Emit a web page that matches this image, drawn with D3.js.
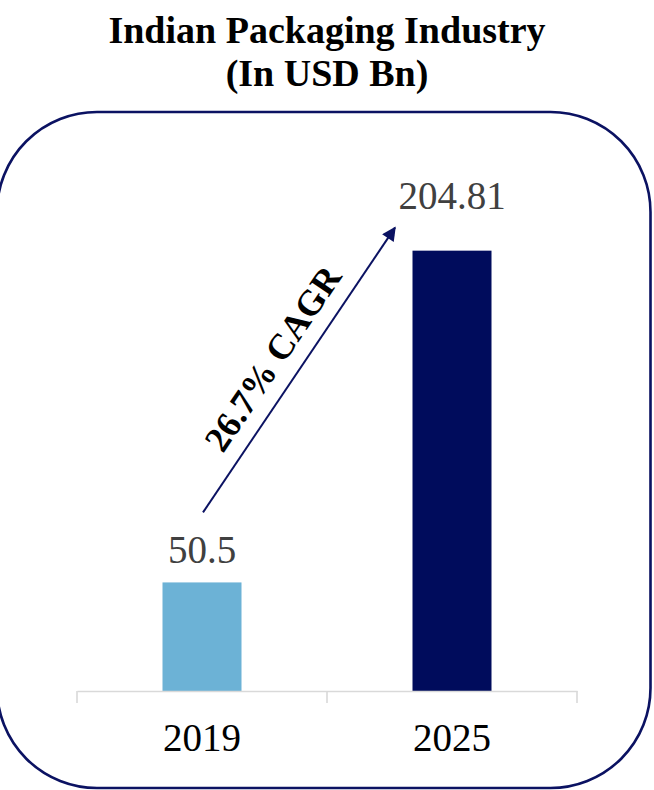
<!DOCTYPE html>
<html>
<head>
<meta charset="utf-8">
<style>
  body { margin: 0; background: #fff; }
  svg { display: block; }
</style>
</head>
<body>
<svg width="654" height="790"></svg>
<script src="https://d3js.org/d3.v7.min.js"></script>
<script>

var years = ["2019", "2025"];
var values = [50.5, 204.81];
var barColors = ["#6cb2d6", "#000c5c"];
var titleLines = ["Indian Packaging Industry", "(In USD Bn)"];
var cagrLabel = "26.7% CAGR";

var svg = d3.select("svg"),
    serif = "'Liberation Serif', 'Times New Roman', serif",
    navy = "#0b1262";

// rounded frame (left edge runs just off the page)
svg.append("rect")
  .attr("x", -3)
  .attr("y", 112)
  .attr("width", 653.5)
  .attr("height", 676)
  .attr("rx", 100)
  .attr("ry", 100)
  .attr("fill", "none")
  .attr("stroke", navy)
  .attr("stroke-width", 2.6);

// title
svg.selectAll(".title")
  .data(titleLines)
  .enter().append("text")
  .attr("class", "title")
  .attr("x", 327)
  .attr("y", function(d, i) { return 43 + i * 43; })
  .attr("text-anchor", "middle")
  .style("font-family", serif)
  .style("font-weight", "bold")
  .style("font-size", "38px")
  .attr("fill", "#000")
  .text(function(d) { return d; });

var x = d3.scaleBand()
  .domain(years)
  .range([77, 577])
  .padding(0);

var y = d3.scaleLinear()
  .domain([0, 250])
  .range([691, 153.5]);

var barW = x.bandwidth() * 0.316;

// bars
svg.selectAll(".bar")
  .data(values)
  .enter().append("rect")
  .attr("class", "bar")
  .attr("x", function(d, i) { return x(years[i]) + x.bandwidth() / 2 - barW / 2; })
  .attr("y", function(d) { return y(d); })
  .attr("width", barW)
  .attr("height", function(d) { return y(0) - y(d); })
  .attr("fill", function(d, i) { return barColors[i]; });

// value labels (last one sits higher to leave room for the arrow head)
svg.selectAll(".val")
  .data(values)
  .enter().append("text")
  .attr("class", "val")
  .attr("x", function(d, i) { return x(years[i]) + x.bandwidth() / 2; })
  .attr("y", function(d, i) { return y(d) - (i === values.length - 1 ? 42 : 19); })
  .attr("text-anchor", "middle")
  .style("font-family", serif)
  .style("font-size", "39px")
  .attr("fill", "#404040")
  .text(function(d) { return d; });

// x axis
var axis = svg.append("g")
  .attr("transform", "translate(0," + y(0) + ")")
  .call(d3.axisBottom(x).tickSize(0).tickSizeOuter(0).tickPadding(0));

axis.select(".domain")
  .attr("stroke", "#d9d9d9")
  .attr("stroke-width", 1.6);

axis.selectAll(".tick text")
  .attr("y", 60)
  .attr("dy", 0)
  .style("font-family", serif)
  .style("font-size", "39px")
  .attr("fill", "#000");

// category separators like the spreadsheet axis
var edges = years.map(function(d) { return x(d); }).concat([x.range()[1]]);
axis.selectAll(".sep")
  .data(edges)
  .enter().append("line")
  .attr("class", "sep")
  .attr("x1", function(d) { return d; })
  .attr("x2", function(d) { return d; })
  .attr("y1", 0)
  .attr("y2", 12)
  .attr("stroke", "#d9d9d9")
  .attr("stroke-width", 1.6);

// CAGR arrow
svg.append("defs").append("marker")
  .attr("id", "head")
  .attr("viewBox", "0 0 10 10")
  .attr("refX", 9)
  .attr("refY", 5)
  .attr("markerWidth", 7.5)
  .attr("markerHeight", 7)
  .attr("markerUnits", "strokeWidth")
  .attr("orient", "auto")
  .append("path")
  .attr("d", "M0,0L10,5L0,10Z")
  .attr("fill", navy);

var x0 = x(years[0]) + x.bandwidth() / 2 + 1,
    y0 = y(values[0]) - 70,
    x1 = x(years[1]) + x.bandwidth() / 2 - 57,
    y1 = y(values[1]) - 23;

svg.append("line")
  .attr("x1", x0).attr("y1", y0)
  .attr("x2", x1).attr("y2", y1)
  .attr("stroke", navy)
  .attr("stroke-width", 2)
  .attr("marker-end", "url(#head)");

var ang = Math.atan2(y1 - y0, x1 - x0),
    mx = (x0 + x1) / 2 + Math.cos(ang) * -5 + Math.sin(ang) * 28,
    my = (y0 + y1) / 2 + Math.sin(ang) * -5 - Math.cos(ang) * 28;

svg.append("text")
  .attr("transform", "translate(" + mx + "," + my + ") rotate(" + (ang * 180 / Math.PI) + ")")
  .attr("text-anchor", "middle")
  .attr("dominant-baseline", "central")
  .style("font-family", serif)
  .style("font-weight", "bold")
  .style("font-size", "36px")
  .attr("fill", "#000")
  .text(cagrLabel);

</script>
</body>
</html>
